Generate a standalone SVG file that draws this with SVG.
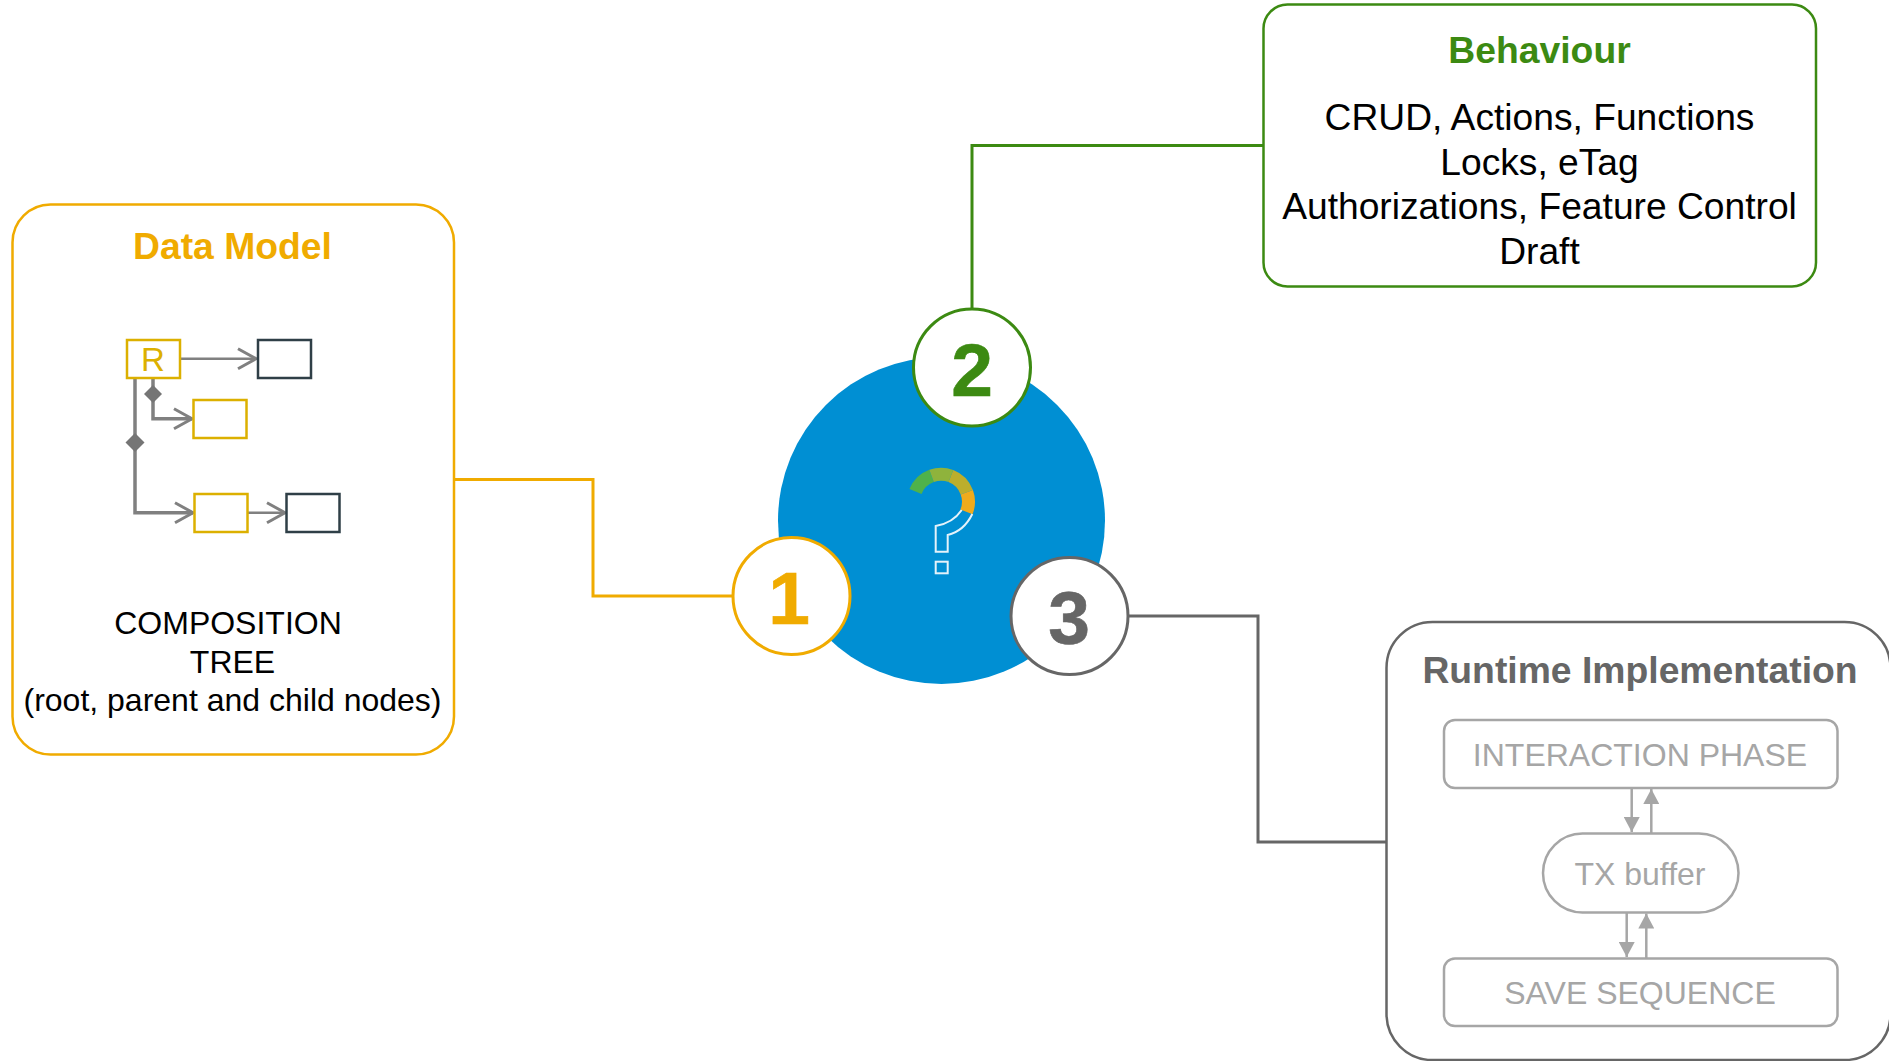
<svg xmlns="http://www.w3.org/2000/svg" width="1889" height="1061" viewBox="0 0 1889 1061">
<style>
text{font-family:"Liberation Sans",Arial,sans-serif;text-anchor:middle}
.title{font-size:37.300px;font-weight:bold}
.num{font-size:75px;font-weight:bold;stroke-width:.6}
.body{font-size:32px;fill:#000}
.beh{font-size:37.200px;fill:#000}
.inner{font-size:32px;fill:#a6a6a6}
.card{fill:#fff;stroke-width:2.5}
.badge{fill:#fff;stroke-width:3}
.y{stroke:#f0ab00}.g{stroke:#3c8a12}.k{stroke:#666}
.ty{fill:#f0ab00;stroke:#f0ab00}.tg{fill:#3c8a12;stroke:#3c8a12}.tk{fill:#666;stroke:#666}
.title.ty,.title.tg,.title.tk{stroke:none}
.wire{fill:none;stroke-width:3}
.ybox{fill:#fff;stroke:#dcb000;stroke-width:2.5}
.dbox{fill:#fff;stroke:#2f3f47;stroke-width:2.5}
.tree{fill:none;stroke:#808080;stroke-width:2.5}
.treeb{fill:none;stroke:#808080;stroke-width:3.500}
.lbox{fill:#fff;stroke:#a6a6a6;stroke-width:2.5}
.larrow{fill:none;stroke:#a6a6a6;stroke-width:2.5;marker-end:url(#solid)}
.gauge{fill:none;stroke-width:13}
.qm{fill:none;stroke:#e4f2fa;stroke-width:2}
</style>
<defs>
<marker id="open" markerUnits="userSpaceOnUse" markerWidth="24" markerHeight="26" refX="20" refY="13" orient="auto"><path d="M2 3L20 13L2 23" fill="none" stroke="#808080" stroke-width="3"/></marker>
<marker id="solid" markerUnits="userSpaceOnUse" markerWidth="16" markerHeight="16" refX="15" refY="8" orient="auto"><path d="M0 0L15 8L0 16Z" fill="#a6a6a6"/></marker>
</defs>
<g id="connectors">
<path class="wire y" d="M454 479.500H593V596H732"/>
<path class="wire g" d="M972 308V145.500H1263"/>
<path class="wire k" d="M1129 616H1258V842H1386"/>
</g>
<g id="data-model">
<rect class="card y" x="12.500" y="204.500" width="441.500" height="550" rx="38"/>
<text class="title ty" x="232.500" y="259">Data Model</text>
<g id="composition-tree">
<path class="tree" d="M180 358.700H256" marker-end="url(#open)"/>
<path class="treeb" d="M153 378V418.700H192" marker-end="url(#open)"/>
<path class="treeb" d="M135 378V512.700H193" marker-end="url(#open)"/>
<path class="tree" d="M247 512.700H285" marker-end="url(#open)"/>
<path d="M153 385L162 394L153 403L144 394Z" fill="#757575"/>
<path d="M135 433L144.500 442.500L135 452L125.500 442.500Z" fill="#757575"/>
<rect class="ybox" x="127" y="340" width="53" height="38"/>
<text x="153" y="371" font-size="33" fill="#dcb000">R</text>
<rect class="dbox" x="258" y="340" width="53" height="38"/>
<rect class="ybox" x="193.500" y="400" width="53" height="38"/>
<rect class="ybox" x="194.500" y="494" width="53" height="38"/>
<rect class="dbox" x="286.500" y="494" width="53" height="38"/>
</g>
<text class="body" x="228" y="634">COMPOSITION</text>
<text class="body" x="232.500" y="672.500">TREE</text>
<text class="body" x="232.500" y="711">(root, parent and child nodes)</text>
</g>
<g id="behaviour">
<rect class="card g" x="1263.500" y="4.500" width="552.500" height="282" rx="24"/>
<text class="title tg" x="1539.500" y="63">Behaviour</text>
<text class="beh" x="1539.500" y="130">CRUD, Actions, Functions</text>
<text class="beh" x="1539.500" y="175">Locks, eTag</text>
<text class="beh" x="1539.500" y="219">Authorizations, Feature Control</text>
<text class="beh" x="1539.500" y="264">Draft</text>
</g>
<g id="runtime">
<rect class="card k" x="1386.500" y="622" width="504" height="438" rx="46"/>
<text class="title tk" x="1640" y="683">Runtime Implementation</text>
<rect class="lbox" x="1444" y="720" width="393.500" height="68" rx="11"/>
<text class="inner" x="1640" y="766">INTERACTION PHASE</text>
<rect class="lbox" x="1543" y="833.500" width="195.500" height="79" rx="39.500"/>
<text class="inner" x="1640" y="885">TX buffer</text>
<rect class="lbox" x="1444" y="958.500" width="393.500" height="67.500" rx="11"/>
<text class="inner" x="1640" y="1004">SAVE SEQUENCE</text>
<path class="larrow" d="M1631.700 788V832"/>
<path class="larrow" d="M1651.300 833V789"/>
<path class="larrow" d="M1626.700 913V957"/>
<path class="larrow" d="M1646.300 958V913.500"/>
</g>
<g id="hub">
<circle cx="941.500" cy="520.500" r="163.500" fill="#008fd3"/>
<path class="gauge" stroke="#4fb24a" d="M915.500 491.500A27.500 27.500 0 0 1 931.600 475.900"/>
<path class="gauge" stroke="#8fb33c" d="M931.600 475.900A27.500 27.500 0 0 1 950.900 476"/>
<path class="gauge" stroke="#bcae2c" d="M950.900 476A27.500 27.500 0 0 1 966.800 492.300"/>
<path class="gauge" stroke="#efab1c" d="M966.800 492.300A27.500 27.500 0 0 1 966.500 511.900"/>
<path class="qm" d="M961.700 510Q953 523 935.700 526V551.700H947.700V535Q964 531 972.300 514"/>
<rect class="qm" x="935.700" y="561.700" width="12" height="11.600"/>
</g>
<g id="badge-1">
<circle class="badge y" cx="791.500" cy="596" r="58.500"/>
<text class="num ty" x="789" y="624">1</text>
</g>
<g id="badge-2">
<circle class="badge g" cx="972" cy="367.500" r="58.500"/>
<text class="num tg" x="972" y="396">2</text>
</g>
<g id="badge-3">
<circle class="badge k" cx="1069.500" cy="616" r="58.500"/>
<text class="num tk" x="1069" y="644">3</text>
</g>
</svg>
